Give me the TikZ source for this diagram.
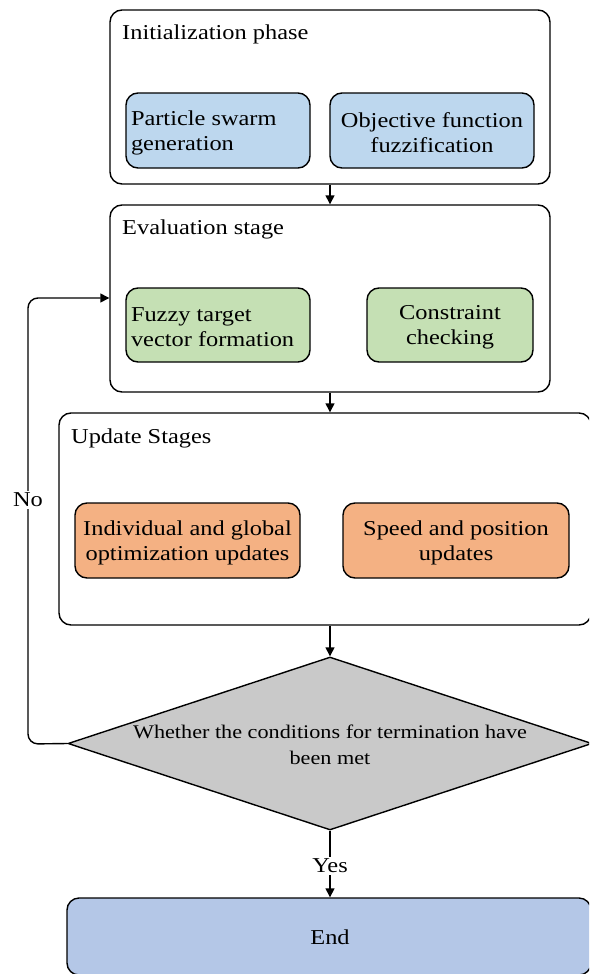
\documentclass[tikz,border=0pt]{standalone}
\usepackage{fontspec}
\setmainfont{Liberation Serif}[FakeStretch=1.15]
\usetikzlibrary{shapes.geometric,arrows.meta}
\definecolor{cblue}{HTML}{BDD7EE}
\definecolor{cgreen}{HTML}{C5E0B4}
\definecolor{corange}{HTML}{F4B183}
\definecolor{cgray}{HTML}{C9C9C9}
\definecolor{cend}{HTML}{B4C7E7}
\newcommand{\lowertext}[2]{\raisebox{-2.5pt}[\height][\depth]{\parbox{#1}{#2}}}
\tikzset{
  container/.style={draw, line width=1.4pt, rounded corners=12pt, inner sep=0pt},
  inbox/.style={draw, line width=1.4pt, rounded corners=12pt, inner sep=0pt, align=center},
  title/.style={anchor=base west, inner sep=0pt},
  arr/.style={-{Triangle[length=9pt,width=9pt]}, line width=1.4pt},
  lin/.style={line width=1.4pt},
}
\begin{document}
\begin{tikzpicture}[x=1pt,y=-1pt, font=\fontsize{21.2}{25}\selectfont]
\useasboundingbox (0,0) rectangle (589,974);
\clip (0,0) rectangle (589,974);
% Initialization
\node[container, minimum width=440pt, minimum height=174pt] (init) at (330,97) {};
\node[title] (tinit) at (122,40) {Initialization phase};
\node[inbox, fill=cblue, minimum width=184pt, minimum height=75pt] (psg) at (218,130.5) {\lowertext{174pt}{Particle swarm\\generation}};
\node[inbox, fill=cblue, minimum width=204pt, minimum height=75pt] (off) at (432,130.5) {\lowertext{190pt}{\centering Objective function\\fuzzification}};
% Evaluation
\node[container, minimum width=440pt, minimum height=187pt] (eval) at (330,298.5) {};
\node[title] (teval) at (122,234) {Evaluation stage};
\node[inbox, fill=cgreen, minimum width=184pt, minimum height=74pt] (ftv) at (218,325) {\lowertext{174pt}{Fuzzy target\\vector formation}};
\node[inbox, fill=cgreen, minimum width=166pt, minimum height=74pt] (cc) at (450,325) {\lowertext{156pt}{\centering Constraint\\checking}};
% Update
\node[container, minimum width=532pt, minimum height=212pt] (upd) at (325,519) {};
\node[title] (tupd) at (71,443) {Update Stages};
\node[inbox, fill=corange, minimum width=225pt, minimum height=75pt] (igo) at (187.5,540.5) {\lowertext{220pt}{\centering Individual and global\\optimization updates}};
\node[inbox, fill=corange, minimum width=226pt, minimum height=75pt] (spu) at (456,540.5) {\lowertext{220pt}{\centering Speed and position\\updates}};
% Decision
\node[diamond, draw, lin, fill=cgray, minimum width=524pt, minimum height=173pt, inner sep=0pt] (dia) at (330,743.5) {};
\node[align=center, inner sep=0pt, font=\fontsize{19.3}{26}\selectfont] (tdia) at (330,745) {Whether the conditions for termination have\\been met};
% End
\node[container, fill=cend, minimum width=524pt, minimum height=77pt] (endb) at (329,936.5) {};
\node (tend) at (330,937) {End};
% Connectors
\draw[arr] (init.south -| 330,0) -- (eval.north -| 330,0);
\draw[arr] (eval.south -| 330,0) -- (upd.north -| 330,0);
\draw[arr] (upd.south -| 330,0) -- (dia.north);
\coordinate (lpb) at (28,744);
\coordinate (lpt) at (28,298);
\draw[arr, rounded corners=10pt] (dia.west) -- (lpb) -- (lpt) -- (eval.west |- lpt);
\node[fill=white, inner sep=2pt] (no) at (28,500) {No};
\draw[arr] (dia.south) -- (endb.north -| dia.south);
\node[fill=white, inner sep=2pt] (yes) at (330,866) {Yes};
\end{tikzpicture}
\end{document}
